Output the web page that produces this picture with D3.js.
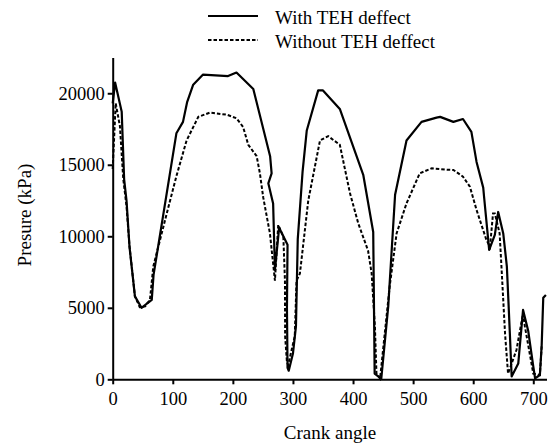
<!DOCTYPE html>
<html><head><meta charset="utf-8">
<script src="https://cdn.jsdelivr.net/npm/d3@7"></script>
<style>
body{margin:0;background:#fff;}
svg{display:block;}
</style></head>
<body><svg id="c" width="555" height="444"></svg>
<script>
const seriesNames = ["With TEH deffect", "Without TEH deffect"];
const xTicks = [0,100,200,300,400,500,600,700];
const yTicks = [0,5000,10000,15000,20000];
const withTEH = [
 [0,19300],[4,20750],[15,18700],[19,14000],[23,12500],[28,9250],[37,5800],[48,5000],[57,5300],[65,5550],
 [68,7300],[106,17200],[117,18000],[124,19400],[134,20600],[150,21300],[192,21200],[206,21450],[234,20300],
 [262,15600],[264.5,14400],[259,13700],[267,12300],[270,7640],[277,10600],[291,9400],[290,5000],[291,800],
 [293,600],[300,1800],[305,3700],[308,9800],[316,14500],[323,17400],[342,20200],[350,20200],[378,18900],
 [417,14300],[433.6,10300],[436,400],[442,200],[447,50],[458.6,5100],[470,12900],[489,16700],[514,18000],
 [539,18300],[545,18350],[567,18000],[583,18200],[597,17300],[605.6,15200],[616.7,13400],[618,12800],[626.6,9050],
 [636,10100],[641.6,11700],[650,10200],[656,7900],[658.6,5500],[661,3200],[664,200],[675,1100],[683,4850],
 [691.5,3400],[700,900],[703,70],[711,300],[714,2400],[716.6,5700],[721,5900]
];
const withoutTEH = [
 [0,14700],[5,19300],[12,17700],[17.6,14000],[23,12100],[28,9300],[37,5800],[45,5050],[54,5100],[62,5550],
 [67.6,7900],[90,11600],[106,14200],[123,16700],[142.5,18350],[162,18650],[190,18500],[206,18250],[217,17650],
 [225.6,16400],[239.6,15600],[245,14400],[250.6,12700],[261.7,10200],[270,6900],[275.5,10800],[284,9970],
 [286.7,6900],[287,3000],[290,1200],[292,1000],[303,3000],[306,6900],[311.6,7400],[325.5,12500],[345,16700],
 [358.7,17000],[378,16400],[395,13000],[408.7,10900],[425,9000],[431,7400],[436.4,3700],[439,400],[445,50],
 [461,6500],[472.5,10200],[489,12300],[511,14400],[531,14750],[556,14650],[567,14640],[583,14170],[594.5,13470],
 [605.6,11840],[622,9740],[628,9270],[633,11600],[636,11600],[644,10200],[647,7900],[653,3200],[658,400],
 [672,2050],[683,4600],[686,3700],[700,400],[711,300],[714,2300]
];

const FONT = '"Liberation Serif","Tinos","DejaVu Serif","Times New Roman",Times,serif';
const svg = d3.select("#c");
const x = d3.scaleLinear().domain([0,722]).range([112.7,546.5]);
const y = d3.scaleLinear().domain([0,22500]).range([379.3,57.5]);

const xAxis = svg.append("g").attr("transform",`translate(0,${y(0)})`)
  .call(d3.axisBottom(x).tickValues(xTicks).tickFormat(d3.format("d")).tickSize(5).tickSizeOuter(0).tickPadding(8));
const yAxis = svg.append("g").attr("transform",`translate(${x(0)},0)`)
  .call(d3.axisLeft(y).tickValues(yTicks).tickFormat(d3.format("d")).tickSize(5).tickSizeOuter(0).tickPadding(3));
[xAxis,yAxis].forEach(g=>{
  g.attr("font-family",FONT).attr("font-size",18.5);
  g.selectAll("path.domain").attr("stroke","#000").attr("stroke-width",2);
  g.selectAll(".tick line").attr("stroke","#000").attr("stroke-width",2);
  g.selectAll(".tick text").attr("fill","#000");
});

const line = d3.line().x(d=>x(d[0])).y(d=>y(d[1]));
svg.append("path").datum(withoutTEH).attr("d",line).attr("fill","none")
  .attr("stroke","#000").attr("stroke-width",2).attr("stroke-dasharray","3.5,2");
svg.append("path").datum(withTEH).attr("d",line).attr("fill","none")
  .attr("stroke","#000").attr("stroke-width",2.2).attr("stroke-linejoin","round");

svg.append("text").attr("x",330).attr("y",439).attr("text-anchor","middle")
  .attr("font-family",FONT).attr("font-size",19).text("Crank angle");
svg.append("text").attr("transform","translate(31,215) rotate(-90)").attr("text-anchor","middle")
  .attr("font-family",FONT).attr("font-size",19).text("Presure (kPa)");

const leg = svg.append("g");
const rows = [{y:16, dash:null, w:2.2},{y:40, dash:"3.5,2", w:2}];
rows.forEach((r,i)=>{
  leg.append("line").attr("x1",208).attr("x2",258).attr("y1",r.y).attr("y2",r.y)
    .attr("stroke","#000").attr("stroke-width",r.w).attr("stroke-dasharray",r.dash);
  leg.append("text").attr("x",275).attr("y",r.y+8).attr("font-family",FONT).attr("font-size",19).text(seriesNames[i]);
});
</script></body></html>
